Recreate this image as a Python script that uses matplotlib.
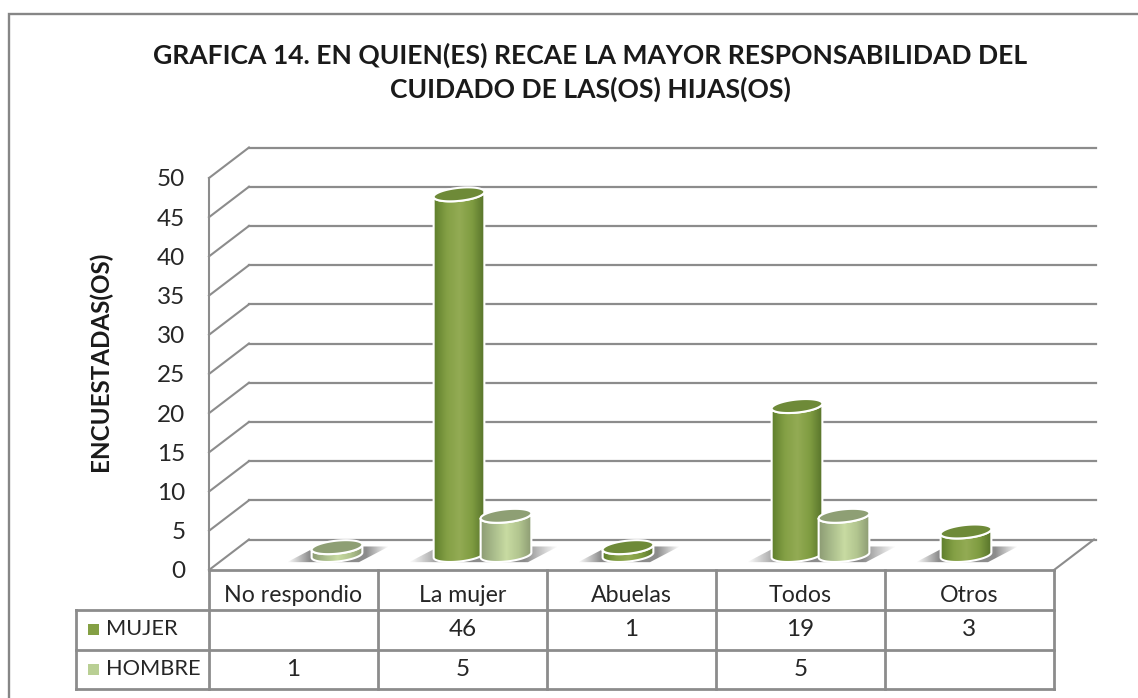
import numpy as np
import matplotlib
matplotlib.use('Agg')
import matplotlib.pyplot as plt
from matplotlib.colors import LinearSegmentedColormap
from matplotlib.patches import Polygon

# Datos de la grafica
categorias = ['No respondio', 'La mujer', 'Abuelas', 'Todos', 'Otros']
mujer = [None, 46, 1, 19, 3]
hombre = [1, 5, None, 5, None]
series = ['MUJER', 'HOMBRE']
ticks_y = [0, 5, 10, 15, 20, 25, 30, 35, 40, 45, 50]
titulo = 'GRAFICA 14. EN QUIEN(ES) RECAE LA MAYOR RESPONSABILIDAD DEL\nCUIDADO DE LAS(OS) HIJAS(OS)'
etiqueta_y = 'ENCUESTADAS(OS)'

W, H = 1138, 698
GRIS = '#8c8c8c'
TEXTO = '#262626'
plt.rcParams['font.family'] = ['Lato', 'DejaVu Sans']

# plano frontal del grafico en pixeles
X0, X1, Y0, Y50 = 209, 1054, 570, 178
PX = (X1 - X0) / len(categorias)
PY = (Y0 - Y50) / 50
DX, DY = 40 / PX, 30.5 / PY    # profundidad del 3D en unidades de datos

fig = plt.figure(figsize=(W / 100, H / 100), dpi=100, facecolor='white')

# capa de fondo en pixeles: marco, tabla y textos
bg = fig.add_axes([0, 0, 1, 1])
bg.set_xlim(0, W)
bg.set_ylim(H, 0)
bg.axis('off')

ax = fig.add_axes([X0 / W, (H - Y0) / H, (X1 - X0) / W, (Y0 - Y50) / H])
ax.set_xlim(0, len(categorias))
ax.set_ylim(0, 50)
ax.patch.set_alpha(0)
for s in ax.spines.values():
    s.set_visible(False)
ax.set_xticks([])
ax.set_yticks(ticks_y)
ax.tick_params(axis='y', length=0, pad=17, labelsize=17.5, labelcolor=TEXTO)

# marco del area del grafico
bg.plot([W, 9, 9], [14, 14, H], color='#868686', lw=1.7, solid_joinstyle='miter')

# paredes y rejilla
n = len(categorias)
for t in ticks_y:
    ax.plot([0, DX], [t, t + DY], color=GRIS, lw=1.5, clip_on=False, zorder=1)
    ax.plot([DX, n + DX * 1.05], [t + DY, t + DY], color=GRIS, lw=1.6, clip_on=False, zorder=1)
ax.plot([0, 0], [0, 50], color=GRIS, lw=1.5, clip_on=False, zorder=1)
ax.plot([n, n + DX], [0, DY], color=GRIS, lw=1.5, clip_on=False, zorder=1)


cmap_mujer = LinearSegmentedColormap.from_list('m', ['#5f7f2c', '#84a045', '#93ab54', '#7f9c41', '#56722a'])
cmap_hombre = LinearSegmentedColormap.from_list('h', ['#8d9c74', '#aabd8c', '#c8dba2', '#b2c58f', '#8b9a72'])
cmap_sombra = LinearSegmentedColormap.from_list('s', [(0.0, (0.5, 0.5, 0.5, 0.0)), (0.22, (0.5, 0.5, 0.5, 0.9)),
                                                      (0.78, (0.5, 0.5, 0.5, 0.9)), (1.0, (0.5, 0.5, 0.5, 0.0))])
grad = np.linspace(0, 1, 128).reshape(1, -1)


def elipse(cx, val, t):
    # elipse inclinada de la tapa, calculada en pixeles y pasada a datos
    a, b, th = 25.5, 6.5, np.radians(6)
    x = a * np.cos(t) * np.cos(th) - b * np.sin(t) * np.sin(th)
    y = a * np.cos(t) * np.sin(th) + b * np.sin(t) * np.cos(th)
    return cx + x / PX, val + 15 / PY + y / PY


def cilindro(i, val, lado, cmap, tapa, z):
    cx = i + 0.5 + (20 + lado * 23.5) / PX
    t = np.linspace(0, 2 * np.pi, 80)
    xb, yb = elipse(cx, 0, t)
    xt, yt = elipse(cx, val, t)
    il, ir = np.argmin(xb), np.argmax(xb)
    # contorno del cuerpo: mitad inferior de la base + mitad superior de la tapa
    ang_izq, ang_der = t[il], t[ir] + 2 * np.pi
    ti = np.linspace(ang_izq, ang_der, 60)
    xbi, ybi = elipse(cx, 0, ti)
    xti, yti = elipse(cx, val, ti[::-1] - 2 * np.pi)
    cuerpo = np.column_stack([np.r_[xbi, xti], np.r_[ybi, yti]])
    pol = Polygon(cuerpo, closed=True, facecolor='none', edgecolor='white', lw=1.5, zorder=z + 0.2)
    fondo = Polygon(cuerpo, closed=True, facecolor='none', edgecolor='none', zorder=z)
    ax.add_patch(fondo)
    im = ax.imshow(grad, extent=[xb.min(), xb.max(), 0, 50], aspect='auto', cmap=cmap, zorder=z + 0.1)
    im.set_clip_path(fondo)
    ax.add_patch(pol)
    ax.add_patch(Polygon(np.column_stack([xt, yt]), closed=True, facecolor=tapa,
                         edgecolor='white', lw=1.5, zorder=z + 0.3))


def sombra(i, lados):
    # sombra sobre el suelo, detras de los cilindros del grupo
    cx = i + 0.5 + 20 / PX
    izq = cx + (min(lados) * 23.5 - 50) / PX
    der = cx + (max(lados) * 23.5 + 52) / PX
    fondo = Polygon([[izq, 1], [der - 30 / PX, 1], [der, 3], [izq + 30 / PX, 3]], closed=True,
                    facecolor='none', edgecolor='none', zorder=2)
    ax.add_patch(fondo)
    im = ax.imshow(grad, extent=[izq, der, 0, 50], aspect='auto', cmap=cmap_sombra, zorder=2.1)
    im.set_clip_path(fondo)


for i in range(n):
    lados = []
    if mujer[i] is not None:
        lados.append(-1)
    if hombre[i] is not None:
        lados.append(1)
    sombra(i, lados)
    if mujer[i] is not None:
        cilindro(i, mujer[i], -1, cmap_mujer, '#6e8a38', 3 + i)
    if hombre[i] is not None:
        cilindro(i, hombre[i], 1, cmap_hombre, '#8e9f74', 3.5 + i)

ax.set_xlim(0, n)
ax.set_ylim(0, 50)

# tabla de datos
cols_x = [X0 + PX * k for k in range(n + 1)]
bg.plot([X0, X1], [570, 570], color=GRIS, lw=2)
bg.plot([76, X1], [610, 610], color=GRIS, lw=2)
bg.plot([76, X1], [650, 650], color=GRIS, lw=2)
bg.plot([76, X1], [689, 689], color=GRIS, lw=2)
bg.plot([76, 76], [610, 689], color=GRIS, lw=2)
for c in cols_x:
    bg.plot([c, c], [570, 689], color=GRIS, lw=2)

fs = 16.7
fn = 17.5
for k, cat in enumerate(categorias):
    cx = X0 + PX * (k + 0.5)
    bg.text(cx, 596, cat, ha='center', va='center', fontsize=fs, color=TEXTO)
    if mujer[k] is not None:
        bg.text(cx, 630, str(mujer[k]), ha='center', va='center', fontsize=fn, color=TEXTO)
    if hombre[k] is not None:
        bg.text(cx, 669, str(hombre[k]), ha='center', va='center', fontsize=fn, color=TEXTO)

bg.add_patch(plt.Rectangle((88, 624), 11, 11, facecolor='#84a044', edgecolor='none'))
bg.add_patch(plt.Rectangle((88, 664), 11, 11, facecolor='#b9cf94', edgecolor='none'))
bg.text(106, 629, series[0], ha='left', va='center', fontsize=15.7, color=TEXTO)
bg.text(106, 669, series[1], ha='left', va='center', fontsize=15.7, color=TEXTO)

bg.text(590, 72, titulo, ha='center', va='center', fontsize=19.05, fontweight='bold',
        color='#1a1a1a', linespacing=1.42)
bg.text(100, 361, etiqueta_y, rotation=90, ha='center', va='center', fontsize=17.4,
        fontweight='bold', color='#1a1a1a')

fig.savefig('out.png', dpi=100, facecolor='white')
